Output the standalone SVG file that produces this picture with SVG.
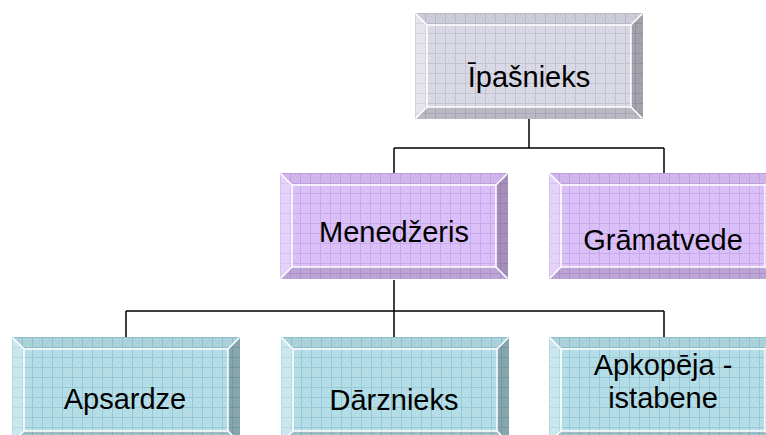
<svg xmlns="http://www.w3.org/2000/svg" xmlns:xlink="http://www.w3.org/1999/xlink" width="766" height="435" viewBox="0 0 766 435">
<style>
.lbl{font-family:"Liberation Sans",Arial,sans-serif;font-size:29px;fill:#000;text-anchor:middle}
.con{fill:none;stroke:#000;stroke-width:1.5}
.hl{fill:none;stroke:#fff;stroke-width:1.5}
</style>
<defs>
<pattern id="pGrey" width="10" height="10" patternUnits="userSpaceOnUse">
<rect width="10" height="10" fill="#dadae6"/>
<path d="M0,0.5H10M0.5,0V10" stroke="#c2c2d3" stroke-width="1"/>
<path d="M2,3h1v1h-1zM6,3h1v1h-1zM4,6h1v1h-1zM8,7h1v1h-1zM3,8h1v1h-1zM7,5h1v1h-1z" fill="#cdcddb"/>
</pattern>
<pattern id="pPurple" width="10" height="10" patternUnits="userSpaceOnUse">
<rect width="10" height="10" fill="#dcc0f8"/>
<path d="M0,0.5H10M0.5,0V10" stroke="#c8a8ec" stroke-width="1"/>
<path d="M2,3h1v1h-1zM6,3h1v1h-1zM4,6h1v1h-1zM8,7h1v1h-1zM3,8h1v1h-1zM7,5h1v1h-1z" fill="#d2b4f2"/>
</pattern>
<pattern id="pTeal" width="10" height="10" patternUnits="userSpaceOnUse">
<rect width="10" height="10" fill="#b6dee8"/>
<path d="M0,0.5H10M0.5,0V10" stroke="#96c9d4" stroke-width="1"/>
<path d="M2,3h1v1h-1zM6,3h1v1h-1zM4,6h1v1h-1zM8,7h1v1h-1zM3,8h1v1h-1zM7,5h1v1h-1z" fill="#a8d4de"/>
</pattern>
<g id="bevel">
<polygon points="0,0 228,0 216,12 12,12" fill="#000" fill-opacity="0.05"/>
<polygon points="0,0 12,12 12,94 0,106" fill="#fff" fill-opacity="0.3"/>
<polygon points="228,0 228,106 216,94 216,12" fill="#000" fill-opacity="0.25"/>
<polygon points="0,106 12,94 216,94 228,106" fill="#000" fill-opacity="0.14"/>
<rect x="12" y="12" width="204" height="82" class="hl"/>
<path d="M0.5,0.5L12,12M227.5,0.5L216,12M0.5,105.5L12,94M227.5,105.5L216,94" class="hl"/>
</g>
</defs>
<rect width="766" height="435" fill="#fff"/>
<g id="connectors">
<path class="con" d="M529,118V148M394,148H664M394,148V173M664,148V173M126,311H664M126,311V337M394,311V337M664,311V337"/>
<path class="con" stroke-width="2.5" d="M394,280V311"/>
</g>
<g id="ipasnieks" transform="translate(415,13)">
<rect width="228" height="106" fill="url(#pGrey)"/>
<use xlink:href="#bevel"/>
<text class="lbl" x="114" y="74">Īpašnieks</text>
</g>
<g id="menedzeris" transform="translate(280,173)">
<rect width="228" height="106" fill="url(#pPurple)"/>
<use xlink:href="#bevel"/>
<text class="lbl" x="114" y="69">Menedžeris</text>
</g>
<g id="gramatvede" transform="translate(549,173)">
<rect width="228" height="106" fill="url(#pPurple)"/>
<use xlink:href="#bevel"/>
<text class="lbl" x="114" y="77">Grāmatvede</text>
</g>
<g id="apsardze" transform="translate(12,337)">
<rect width="228" height="106" fill="url(#pTeal)"/>
<use xlink:href="#bevel"/>
<text class="lbl" x="113" y="72">Apsardze</text>
</g>
<g id="darznieks" transform="translate(281,337)">
<rect width="228" height="106" fill="url(#pTeal)"/>
<use xlink:href="#bevel"/>
<text class="lbl" x="113" y="73">Dārznieks</text>
</g>
<g id="apkopeja" transform="translate(549,337)">
<rect width="228" height="106" fill="url(#pTeal)"/>
<use xlink:href="#bevel"/>
<text class="lbl" x="114" y="38">Apkopēja -</text>
<text class="lbl" x="114" y="71">istabene</text>
</g>
</svg>
